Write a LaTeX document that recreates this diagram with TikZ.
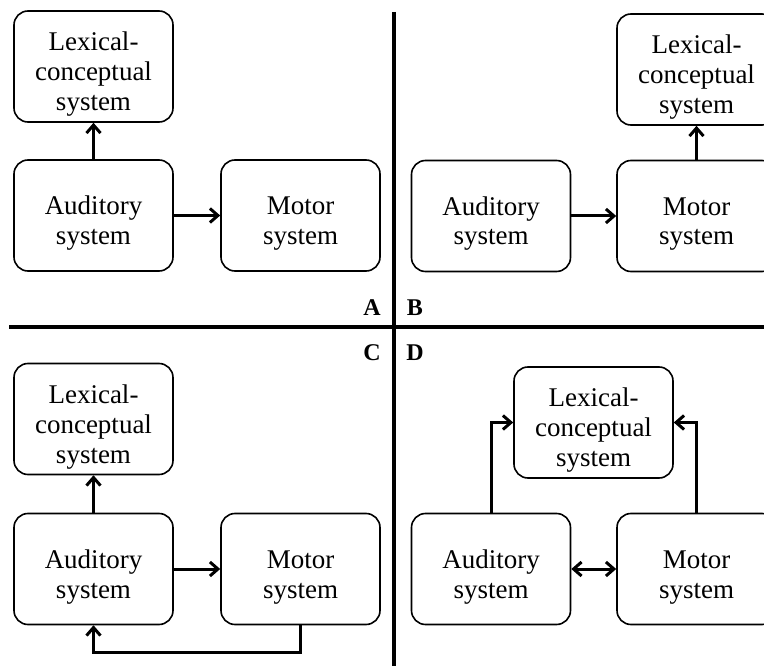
\documentclass[tikz,border=0pt]{standalone}
\usepackage{fontspec}
\setmainfont{Liberation Serif}
\usetikzlibrary{arrows.meta}
\newcommand{\boxtxt}[1]{\raisebox{-8pt}[\height][\depth]{\begin{tabular}{@{}c@{}}#1\end{tabular}}}
\begin{document}
\begin{tikzpicture}[x=1pt,y=-1pt,
  box/.style={draw, line width=1.6pt, rounded corners=14pt, minimum width=159pt,
    minimum height=111pt, inner sep=0pt,
    font=\fontsize{27}{30}\selectfont},
  arr/.style={line width=3pt, -{Straight Barb[length=8pt,width=14pt]}},
  darr/.style={line width=3pt, {Straight Barb[length=8pt,width=14pt]}-{Straight Barb[length=8pt,width=14pt]}},
  divider/.style={line width=3.2pt},
  panel/.style={font=\bfseries\fontsize{24}{24}\selectfont, inner sep=0pt}]
\clip (0,0) rectangle (764,666);
% dividers
\coordinate (vtop) at (394,12);
\coordinate (vbot) at (394,666);
\coordinate (hl) at (9,327);
\coordinate (hr) at (764,327);
\draw[divider] (vtop) -- (vbot);
\draw[divider] (hl) -- (hr);
% panel labels
\node[panel] (labA) at (372,308) {A};
\node[panel] (labB) at (415,308) {B};
\node[panel] (labC) at (372,353) {C};
\node[panel] (labD) at (415,353) {D};
% Panel A
\node[box] (LexA) at (93.5,66.5) {\boxtxt{Lexical-\\conceptual\\system}};
\node[box] (AudA) at (93.5,215.5) {\boxtxt{Auditory\\system}};
\node[box] (MotA) at (300.5,215.5) {\boxtxt{Motor\\system}};
\draw[arr] (AudA) -- (LexA);
\draw[arr] (AudA) -- (MotA);
% Panel B
\node[box] (LexB) at (696.5,69.5) {\boxtxt{Lexical-\\conceptual\\system}};
\node[box] (AudB) at (491,216) {\boxtxt{Auditory\\system}};
\node[box] (MotB) at (696.5,216) {\boxtxt{Motor\\system}};
\draw[arr] (AudB) -- (MotB);
\draw[arr] (MotB) -- (LexB);
% Panel C
\node[box] (LexC) at (93.5,419) {\boxtxt{Lexical-\\conceptual\\system}};
\node[box] (AudC) at (93.5,569) {\boxtxt{Auditory\\system}};
\node[box] (MotC) at (300.5,569) {\boxtxt{Motor\\system}};
\draw[arr] (AudC) -- (LexC);
\draw[arr] (AudC) -- (MotC);
\draw[arr] (MotC.south) -- ++(0,27) -| (AudC.south);
% Panel D
\node[box] (LexD) at (593.5,422.5) {\boxtxt{Lexical-\\conceptual\\system}};
\node[box] (AudD) at (491,569) {\boxtxt{Auditory\\system}};
\node[box] (MotD) at (696.5,569) {\boxtxt{Motor\\system}};
\draw[arr] (AudD.north) |- (LexD.west);
\draw[arr] (MotD.north) |- (LexD.east);
\draw[darr] (AudD) -- (MotD);
\end{tikzpicture}
\end{document}
